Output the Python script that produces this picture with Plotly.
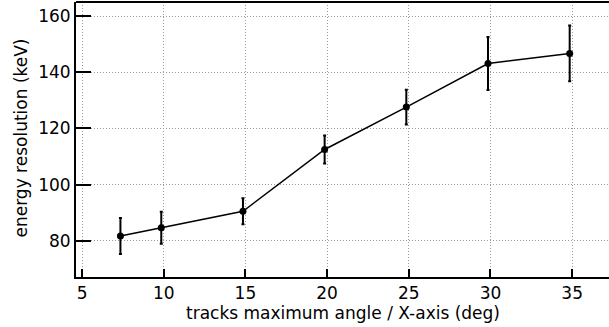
import plotly.graph_objects as go

angle = [7.35, 9.85, 14.85, 19.85, 24.85, 29.85, 34.85]
resolution = [81.7, 84.6, 90.5, 112.5, 127.6, 143.1, 146.7]
res_err = [6.4, 5.7, 4.6, 5.0, 6.2, 9.4, 9.9]

x_ticks = [5, 10, 15, 20, 25, 30, 35]
y_ticks = [80, 100, 120, 140, 160]

x_title = "tracks maximum angle / X-axis (deg)"
y_title = "energy resolution (keV)"

fig = go.Figure()
fig.add_trace(go.Scatter(
    x=angle, y=resolution,
    mode="lines+markers",
    line=dict(color="black", width=1.5),
    marker=dict(color="black", size=7),
    error_y=dict(type="data", array=res_err, visible=True,
                 color="black", thickness=2, width=1.5),
    showlegend=False,
))

font = dict(family="DejaVu Sans, Liberation Sans, sans-serif", size=17, color="black")

grid = dict(showgrid=True, gridcolor="#999999", griddash="1px,2px", gridwidth=1)

fig.update_layout(
    width=620, height=327,
    margin=dict(l=76, r=0, t=2, b=50),
    paper_bgcolor="white", plot_bgcolor="white",
    font=font,
    xaxis=dict(
        range=[4.63, 37.93], automargin=False,
        tickvals=x_ticks, ticktext=[str(v) for v in x_ticks],
        ticks="inside", ticklen=8, tickwidth=1.5, tickcolor="black",
        showline=True, linewidth=2, linecolor="black",
        zeroline=False, **grid,
    ),
    yaxis=dict(
        range=[67.1, 165.0], automargin=False,
        tickvals=y_ticks, ticktext=[str(v) for v in y_ticks],
        ticks="inside", ticklen=15, tickwidth=1.5, tickcolor="black",
        showline=True, linewidth=2, linecolor="black",
        zeroline=False, **grid,
    ),
    shapes=[dict(type="line", xref="paper", yref="paper",
                 x0=0, x1=1, y0=1, y1=1,
                 line=dict(color="black", width=2))],
    annotations=[
        dict(text=x_title, xref="paper", yref="paper", x=0.4917, y=-0.131,
             xanchor="center", yanchor="middle", showarrow=False),
        dict(text=y_title, xref="paper", yref="paper", x=-0.1029, y=0.5036,
             xanchor="center", yanchor="middle", textangle=-90, showarrow=False),
    ],
)

fig.write_html(
    "out.html",
    config={"displayModeBar": False},
    post_script=("document.documentElement.style.overflow='hidden';"
                 "document.body.style.overflow='hidden';"
                 "document.body.style.margin='0';document.body.style.padding='0';"),
)
